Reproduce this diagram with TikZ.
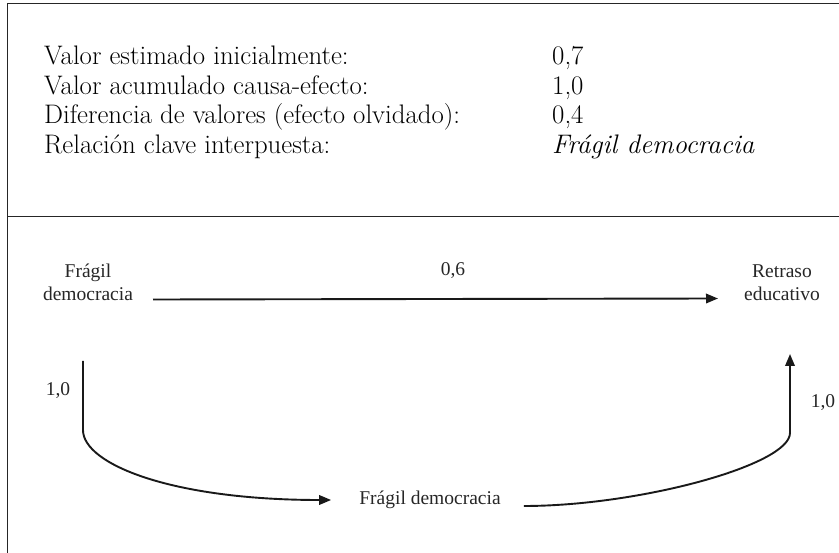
\documentclass[tikz,border=0pt]{standalone}
\usepackage{fontspec}
\usepackage{tikz}
\usetikzlibrary{arrows.meta,calc}
\newfontfamily\timesfont{Liberation Serif}

\begin{document}
\begin{tikzpicture}[x=1pt,y=-1pt,-]
            \tikzstyle{row}=[anchor=base west,inner sep=0pt,font=\fontsize{26.8}{30}\selectfont]
            \tikzstyle{factor}=[align=center,inner sep=2pt,text=black!85,font=\timesfont\fontsize{19.5}{23}\selectfont]
            \tikzstyle{weight}=[inner sep=0pt,text=black!85,font=\timesfont\fontsize{19.5}{23}\selectfont]
            \tikzstyle{link}=[line width=1.9pt,black!90,-{Triangle[length=12pt,width=9.5pt]}]
            \tikzstyle{rule}=[line width=0.9pt,black!85]
                \useasboundingbox (0,0) rectangle (839,553);

                \draw[rule] (839,3) -- (7,3) -- (7,553);
                \draw[rule] (7,216) -- (839,216);

                \node[row] (L-1) at (44,65){Valor estimado inicialmente:};
                \node[row] (L-2) at (44,94.5){Valor acumulado causa-efecto:};
                \node[row] (L-3) at (44,124){Diferencia de valores (efecto olvidado):};
                \node[row] (L-4) at (44,154){Relación clave interpuesta:};

                \node[row] (W-1) at (552,65){0,7};
                \node[row] (W-2) at (552,94.5){1,0};
                \node[row] (W-3) at (552,124){0,4};
                \node[row] (W-4) at (552,154){\itshape Frágil democracia};

                \node[factor] (D-1) at (88,282.5){Frágil\\democracia};
                \node[factor] (R-1) at (782,282.5){Retraso\\educativo};
                \node[factor] (D-2) at (430,500){Frágil democracia};

                \node[weight] (P-1) at (453,271){0,6};
                \node[weight] (P-2) at (58,391){1,0};
                \node[weight] (P-3) at (823,403){1,0};

                \draw[link] ($(D-1)+(65,17)$) -- ($(R-1)+(-64,16)$);
                \draw[link] ($(D-1)+(-5,78.5)$) -- ++(0,69)
                    .. controls +(0,34) and +(-160,0) .. ($(D-2.west)+(-26,0)$);
                \draw[link] ($(D-2.east)+(21,6)$)
                    .. controls +(115,0) and +(0,32) .. ($(R-1)+(8,150.5)$) -- ($(R-1)+(8,71.5)$);
        \end{tikzpicture}
\end{document}
